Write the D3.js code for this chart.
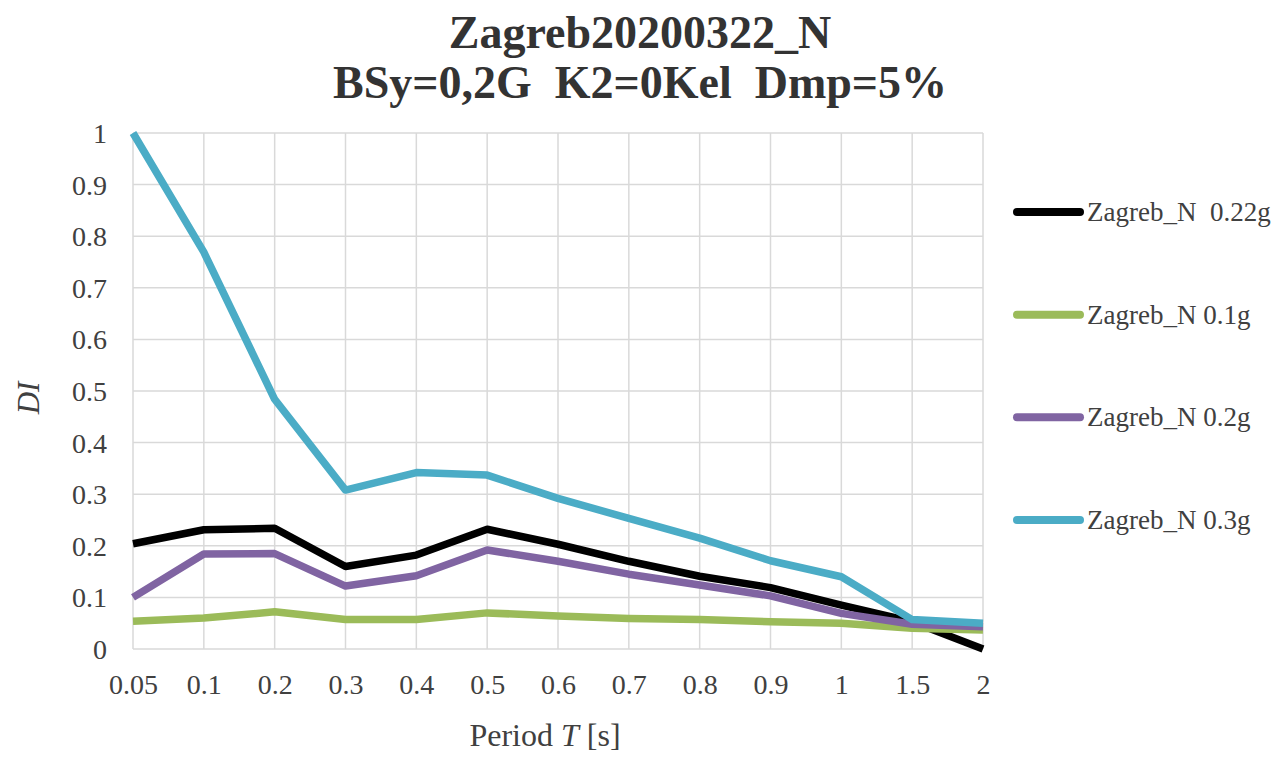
<!DOCTYPE html>
<html>
<head>
<meta charset="utf-8">
<script src="https://cdn.jsdelivr.net/npm/d3@7"></script>
<style>
  html, body { margin: 0; padding: 0; background: #fff; }
  svg { display: block; }
</style>
</head>
<body>
<svg id="chart" width="1278" height="760"></svg>
<script>
// Period categories along the x axis
const periods = ["0.05", "0.1", "0.2", "0.3", "0.4", "0.5", "0.6", "0.7", "0.8", "0.9", "1", "1.5", "2"];
const yTicks = [0, 0.1, 0.2, 0.3, 0.4, 0.5, 0.6, 0.7, 0.8, 0.9, 1];

// Damage index per period for each record scaling
const di022 = [0.204, 0.231, 0.234, 0.160, 0.182, 0.232, 0.203, 0.170, 0.141, 0.119, 0.085, 0.053, 0.0];
const di01  = [0.054, 0.060, 0.072, 0.057, 0.057, 0.070, 0.064, 0.059, 0.057, 0.053, 0.050, 0.040, 0.037];
const di02  = [0.100, 0.184, 0.185, 0.122, 0.142, 0.192, 0.170, 0.145, 0.124, 0.103, 0.069, 0.048, 0.043];
const di03  = [1.000, 0.769, 0.484, 0.308, 0.342, 0.337, 0.292, 0.253, 0.215, 0.171, 0.140, 0.057, 0.050];

const seriesNames = ["Zagreb_N  0.22g", "Zagreb_N 0.1g", "Zagreb_N 0.2g", "Zagreb_N 0.3g"];
const seriesColors = ["#000000", "#9bbb59", "#8064a2", "#4bacc6"];
const seriesValues = [di022, di01, di02, di03];

const series = seriesNames.map((name, i) => ({ name, color: seriesColors[i], values: seriesValues[i] }));

const svg = d3.select("#chart");
const serif = "'Liberation Serif', 'Times New Roman', serif";

const plot = { left: 133, right: 983, top: 133, bottom: 649 };

const x = d3.scalePoint().domain(periods).range([plot.left, plot.right]);
const y = d3.scaleLinear().domain([0, 1]).range([plot.bottom, plot.top]);

// Gridlines
const grid = svg.append("g").attr("class", "grid");
grid.selectAll("line.h").data(yTicks).join("line")
  .attr("class", "h")
  .attr("x1", plot.left).attr("x2", plot.right)
  .attr("y1", d => y(d)).attr("y2", d => y(d))
  .attr("stroke", "#d9d9d9").attr("stroke-width", 1.5);
grid.selectAll("line.v").data(periods).join("line")
  .attr("class", "v")
  .attr("x1", d => x(d)).attr("x2", d => x(d))
  .attr("y1", plot.top).attr("y2", plot.bottom)
  .attr("stroke", "#d9d9d9").attr("stroke-width", 1.5);

// Axes (labels only, no ticks or domain line)
const yAxis = svg.append("g")
  .attr("transform", `translate(107,0)`)
  .call(d3.axisLeft(y).tickValues(yTicks).tickSize(0).tickPadding(0).tickFormat(d3.format("~g")));
yAxis.select(".domain").remove();
yAxis.selectAll("text")
  .attr("x", 0).attr("dy", "0.34em")
  .attr("font-family", serif).attr("font-size", 28).attr("fill", "#404040");

const xAxis = svg.append("g")
  .attr("transform", `translate(0,${plot.bottom})`)
  .call(d3.axisBottom(x).tickSize(0).tickPadding(0));
xAxis.select(".domain").remove();
xAxis.selectAll("text")
  .attr("y", 45).attr("dy", 0)
  .attr("font-family", serif).attr("font-size", 28).attr("fill", "#404040");

// Series lines
const line = d3.line()
  .x((d, i) => x(periods[i]))
  .y(d => y(d));

svg.append("g").selectAll("path").data(series).join("path")
  .attr("d", d => line(d.values))
  .attr("fill", "none")
  .attr("stroke", d => d.color)
  .attr("stroke-width", 7.5)
  .attr("stroke-linejoin", "round")
  .attr("stroke-linecap", "butt");

// Title
const title = svg.append("text")
  .attr("text-anchor", "middle")
  .attr("font-family", serif).attr("font-weight", "bold")
  .attr("font-size", 46).attr("fill", "#333333");
title.append("tspan").attr("x", 640).attr("y", 48).text("Zagreb20200322_N");
title.append("tspan").attr("x", 640).attr("y", 98).attr("xml:space", "preserve").text("BSy=0,2G  K2=0Kel  Dmp=5%");

// Axis titles
svg.append("text")
  .attr("transform", `translate(39,398) rotate(-90)`)
  .attr("text-anchor", "middle")
  .attr("font-family", serif).attr("font-style", "italic")
  .attr("font-size", 31).attr("fill", "#404040")
  .text("DI");

const xTitle = svg.append("text")
  .attr("x", 545).attr("y", 746)
  .attr("text-anchor", "middle")
  .attr("font-family", serif).attr("font-size", 32).attr("fill", "#404040");
xTitle.append("tspan").text("Period ");
xTitle.append("tspan").attr("font-style", "italic").text("T");
xTitle.append("tspan").text(" [s]");

// Legend
const legendY = d3.scalePoint().domain(seriesNames).range([212, 520]);
const legend = svg.append("g").selectAll("g").data(series).join("g")
  .attr("transform", d => `translate(1017,${legendY(d.name)})`);
legend.append("line")
  .attr("x1", 0).attr("x2", 63)
  .attr("stroke", d => d.color).attr("stroke-width", 8)
  .attr("stroke-linecap", "round");
legend.append("text")
  .attr("x", 70).attr("dy", "0.33em")
  .attr("font-family", serif).attr("font-size", 27).attr("fill", "#404040")
  .attr("xml:space", "preserve")
  .text(d => d.name);
</script>
</body>
</html>
